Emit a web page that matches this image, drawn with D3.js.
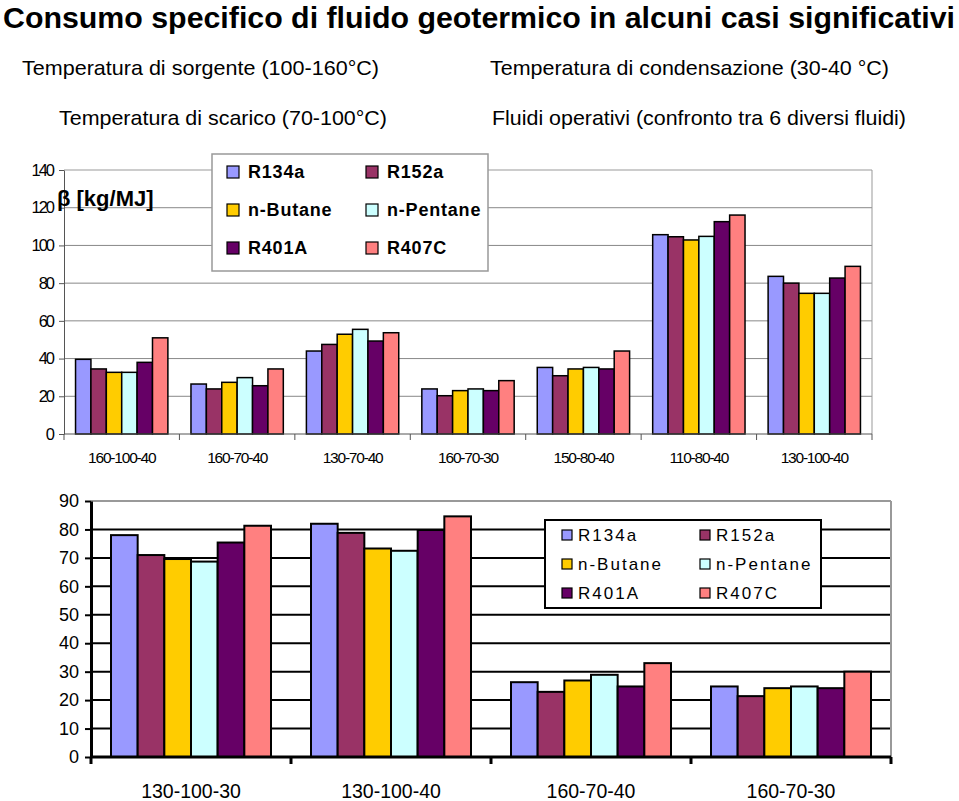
<!DOCTYPE html>
<html>
<head>
<meta charset="utf-8">
<script src="https://cdn.jsdelivr.net/npm/d3@7"></script>
<style>
  body { margin: 0; background: #fff; }
  svg { display: block; font-family: Arial, "Liberation Sans", sans-serif; }
</style>
</head>
<body>
<div id="chart"></div>
<script>
// fluids and colours
const fluids = ['R134a', 'R152a', 'n-Butane', 'n-Pentane', 'R401A', 'R407C'];
const fluidColors = ['#9999ff', '#993366', '#ffcc00', '#ccffff', '#660066', '#ff8080'];

// top chart: cases (source-discharge-condensation temperatures)
const topCases = ['160-100-40', '160-70-40', '130-70-40', '160-70-30', '150-80-40', '110-80-40', '130-100-40'];
const topR134a   = [39.6, 26.5, 44.0, 23.9, 35.3, 105.7, 83.6];
const topR152a   = [34.5, 23.9, 47.5, 20.3, 30.9, 104.6, 80.0];
const topButane  = [32.7, 27.4, 52.9, 23.0, 34.5, 102.9, 74.6];
const topPentane = [32.7, 29.9, 55.5, 23.9, 35.3, 104.8, 74.6];
const topR401A   = [38.0, 25.6, 49.3, 23.0, 34.5, 112.6, 82.7];
const topR407C   = [51.0, 34.5, 53.7, 28.3, 44.0, 116.1, 88.9];
const topTicks = [0, 20, 40, 60, 80, 100, 120, 140];

// bottom chart
const botCases = ['130-100-30', '130-100-40', '160-70-40', '160-70-30'];
const botR134a   = [78.0, 82.0, 26.3, 24.8];
const botR152a   = [71.0, 78.8, 22.9, 21.4];
const botButane  = [69.6, 73.3, 26.9, 24.2];
const botPentane = [68.7, 72.5, 28.9, 24.8];
const botR401A   = [75.4, 79.8, 24.8, 24.2];
const botR407C   = [81.3, 84.6, 33.0, 30.0];
const botTicks = [0, 10, 20, 30, 40, 50, 60, 70, 80, 90];

const topSeries = [topR134a, topR152a, topButane, topPentane, topR401A, topR407C];
const botSeries = [botR134a, botR152a, botButane, botPentane, botR401A, botR407C];

const svg = d3.select('#chart').append('svg')
    .attr('width', 959)
    .attr('height', 801);

// header texts
svg.append('text')
    .attr('x', 3).attr('y', 28)
    .attr('font-size', 29).attr('font-weight', 'bold')
    .attr('textLength', 952).attr('lengthAdjust', 'spacingAndGlyphs')
    .text('Consumo specifico di fluido geotermico in alcuni casi significativi');

const subs = [
    {t: 'Temperatura di sorgente (100-160\u00b0C)', x: 22, y: 75, w: 357},
    {t: 'Temperatura di condensazione (30-40 \u00b0C)', x: 490, y: 75, w: 399},
    {t: 'Temperatura di scarico (70-100\u00b0C)', x: 59, y: 125, w: 328},
    {t: 'Fluidi operativi (confronto tra 6 diversi fluidi)', x: 492, y: 125, w: 414}
];
svg.selectAll('.sub').data(subs).enter().append('text')
    .attr('x', d => d.x).attr('y', d => d.y)
    .attr('font-size', 21)
    .attr('textLength', d => d.w).attr('lengthAdjust', 'spacingAndGlyphs')
    .text(d => d.t);

function groupedChart(o) {
    const g = svg.append('g');
    const x0 = d3.scaleBand().domain(o.cases).range([o.left, o.right])
        .paddingInner(0.2).paddingOuter(0.1);
    const x1 = d3.scaleBand().domain(d3.range(fluids.length)).range([0, x0.bandwidth()]);
    const y = d3.scaleLinear().domain([0, o.max]).range([o.bottom, o.top]);

    // gridlines
    g.selectAll('.grid').data(o.ticks.filter(t => t > 0)).enter().append('line')
        .attr('x1', o.left).attr('x2', o.right)
        .attr('y1', d => y(d)).attr('y2', d => y(d))
        .attr('stroke', d => d === o.max ? '#999' : o.gridColor)
        .attr('stroke-width', o.gridWidth);
    // right border
    g.append('line')
        .attr('x1', o.right).attr('x2', o.right)
        .attr('y1', o.top).attr('y2', o.bottom)
        .attr('stroke', '#999').attr('stroke-width', o.borderWidth);

    // bars
    const groups = g.selectAll('.grp').data(o.cases).enter().append('g')
        .attr('transform', d => `translate(${x0(d)},0)`);
    groups.selectAll('rect')
        .data((c, ci) => o.series.map((s, si) => ({si, v: s[ci]})))
        .enter().append('rect')
        .attr('x', d => x1(d.si))
        .attr('width', x1.bandwidth())
        .attr('y', d => y(d.v))
        .attr('height', d => o.bottom - y(d.v))
        .attr('fill', d => fluidColors[d.si])
        .attr('stroke', '#000')
        .attr('stroke-width', o.barStroke);

    // y axis
    const ya = g.append('g')
        .attr('transform', `translate(${o.left},0)`)
        .call(d3.axisLeft(y).tickValues(o.ticks).tickSize(o.tickLen).tickSizeOuter(0).tickPadding(o.yPad));
    ya.select('.domain').attr('stroke', o.axisColor).attr('stroke-width', o.axisWidth);
    ya.selectAll('.tick line').attr('stroke', o.axisColor).attr('stroke-width', o.gridWidth);
    ya.selectAll('text')
        .attr('font-size', o.yFont).attr('letter-spacing', o.yLetter)
        .attr('fill', '#000').attr('font-family', 'Arial, "Liberation Sans", sans-serif');

    // x axis: baseline, ticks at group boundaries, labels centred
    const step = x0.step();
    const start = x0.range()[0];
    g.append('line')
        .attr('x1', o.left).attr('x2', o.right)
        .attr('y1', o.bottom).attr('y2', o.bottom)
        .attr('stroke', o.axisColor).attr('stroke-width', o.axisWidth);
    g.selectAll('.xt').data(d3.range(o.cases.length + 1)).enter().append('line')
        .attr('x1', i => start + i * step).attr('x2', i => start + i * step)
        .attr('y1', o.bottom).attr('y2', o.bottom + o.tickLen + 1)
        .attr('stroke', o.axisColor).attr('stroke-width', o.axisWidth);
    g.selectAll('.xl').data(o.cases).enter().append('text')
        .attr('x', d => x0(d) + x0.bandwidth() / 2)
        .attr('y', o.xLabelY)
        .attr('text-anchor', 'middle')
        .attr('font-size', o.xFont).attr('letter-spacing', o.xLetter)
        .text(d => d);
    return g;
}

groupedChart({
    cases: topCases, series: topSeries, ticks: topTicks, max: 140,
    left: 64, right: 872, top: 170, bottom: 434,
    gridColor: '#888', gridWidth: 1, borderWidth: 1, axisColor: '#555', axisWidth: 1,
    barStroke: 1.5, tickLen: 5, yPad: 6, yFont: 16.5, yLetter: -2,
    xFont: 15.5, xLetter: -1.2, xLabelY: 463
});

groupedChart({
    cases: botCases, series: botSeries, ticks: botTicks, max: 90,
    left: 91, right: 891, top: 501, bottom: 757,
    gridColor: '#000', gridWidth: 2, borderWidth: 2, axisColor: '#000', axisWidth: 3,
    barStroke: 2, tickLen: 6, yPad: 6, yFont: 18, yLetter: 0,
    xFont: 19.5, xLetter: 0, xLabelY: 798
});

// top y label
svg.append('text')
    .attr('x', 57).attr('y', 206)
    .attr('font-size', 22).attr('font-weight', 'bold')
    .text('\u03b2 [kg/MJ]');

// legends
function legend(o) {
    const g = svg.append('g');
    g.append('rect')
        .attr('x', o.x).attr('y', o.y).attr('width', o.w).attr('height', o.h)
        .attr('fill', '#fff').attr('stroke', o.stroke).attr('stroke-width', o.sw);
    const items = g.selectAll('.it').data(fluids).enter().append('g')
        .attr('transform', (d, i) => `translate(${o.x + o.colX[i % 2]},${o.y + o.rowY[Math.floor(i / 2)]})`);
    items.append('rect')
        .attr('x', 0).attr('y', -o.sq / 2).attr('width', o.sq).attr('height', o.sq)
        .attr('fill', (d, i) => fluidColors[i]).attr('stroke', '#000').attr('stroke-width', 1.2);
    items.append('text')
        .attr('x', o.textDx).attr('y', 0).attr('dy', '0.36em')
        .attr('font-size', o.font).attr('font-weight', o.weight)
        .attr('letter-spacing', o.letter)
        .text(d => d);
}

legend({
    x: 212, y: 154, w: 276, h: 117, stroke: '#999', sw: 1.5,
    colX: [15, 154], rowY: [18, 56, 94], sq: 12, textDx: 21,
    font: 18, weight: 'bold', letter: 0.8
});

legend({
    x: 545, y: 520, w: 276, h: 88, stroke: '#000', sw: 2,
    colX: [17, 155], rowY: [15, 44, 73], sq: 10, textDx: 16,
    font: 17, weight: 'normal', letter: 2
});
</script>
</body>
</html>
